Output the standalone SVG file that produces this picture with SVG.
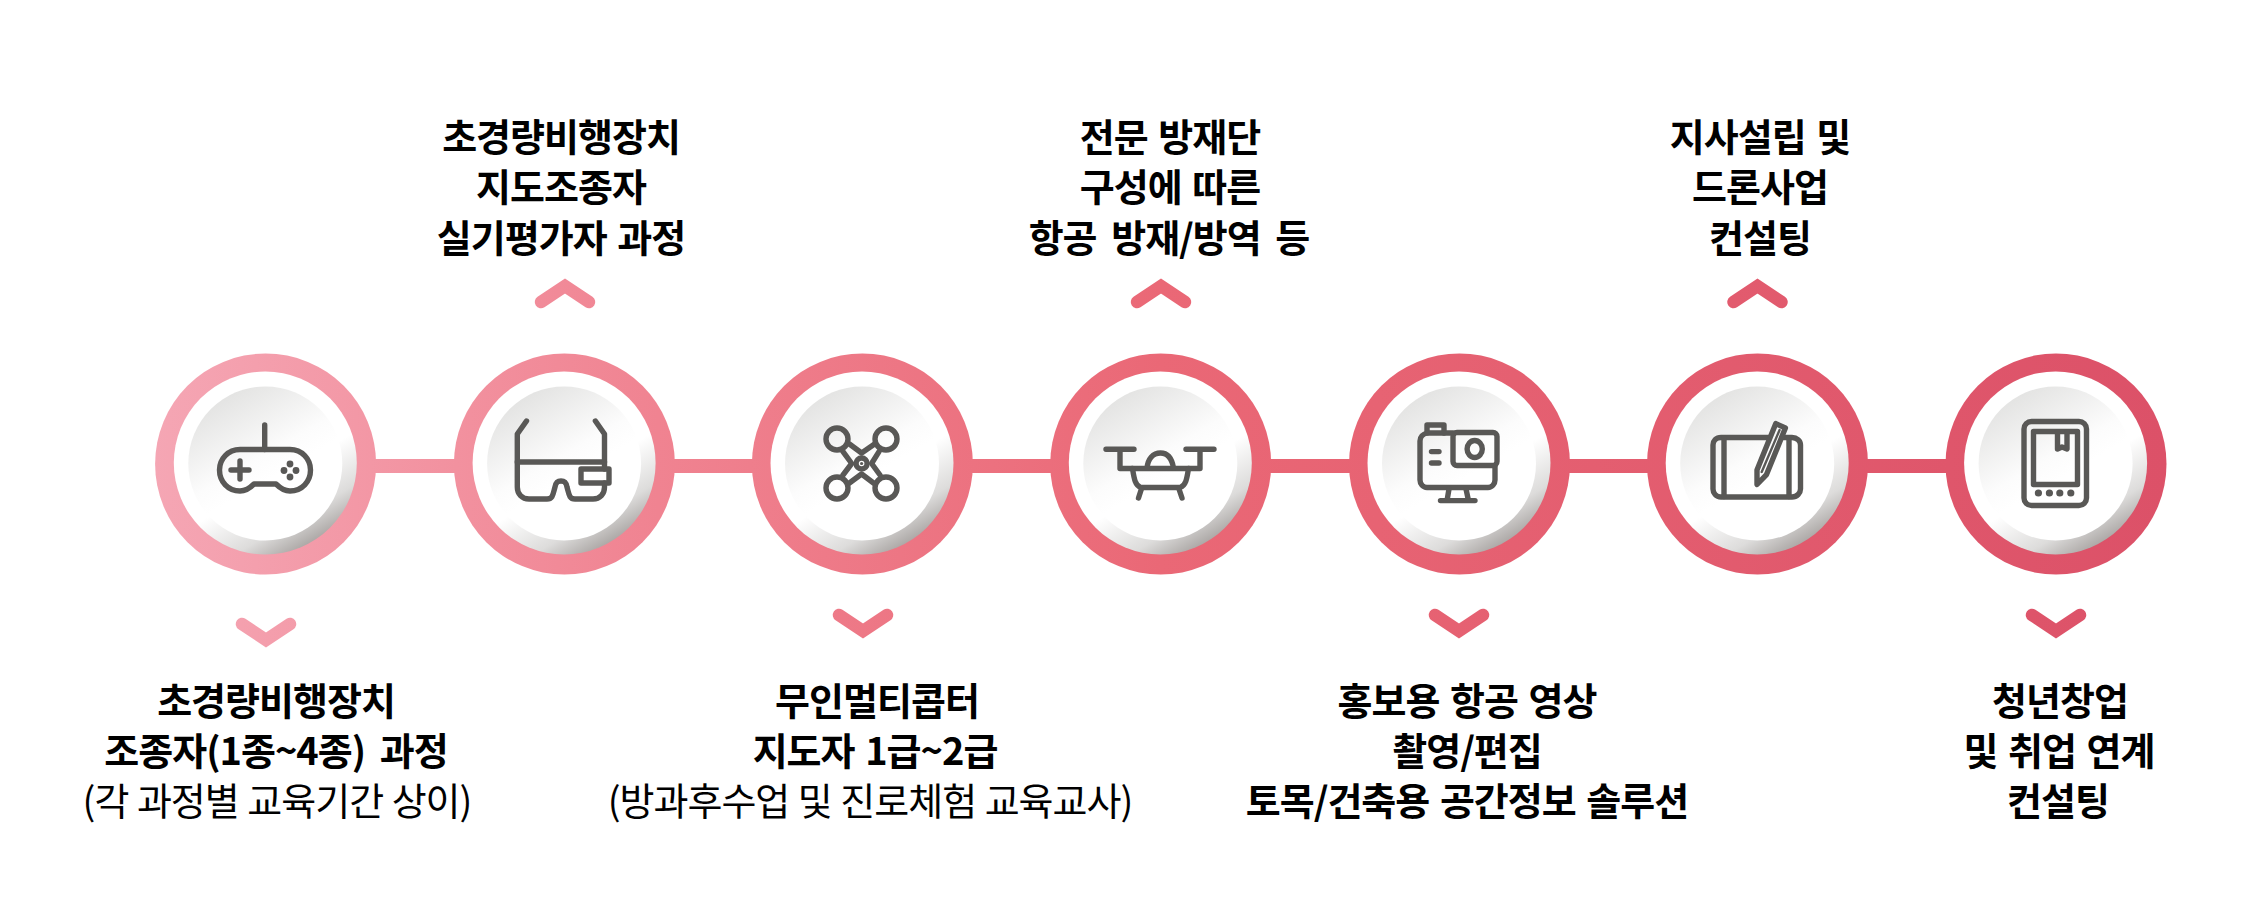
<svg xmlns="http://www.w3.org/2000/svg" width="2259" height="920" viewBox="0 0 2259 920">
<style>
text{font-family:"Noto Sans CJK KR","Noto Sans",sans-serif;font-size:38px;letter-spacing:-1px;word-spacing:3px;text-anchor:middle;fill:#000}
.b{font-weight:700}
.r{font-weight:400;word-spacing:1px}
.w{word-spacing:7px}
.ring{fill:url(#rowGrad)}
.bevel{fill:url(#bevelGrad)}
.face{fill:url(#faceGrad)}
.ic{fill:none;stroke:#595856;stroke-width:5.4;stroke-linecap:round;stroke-linejoin:round}
.dot{fill:#595856}
.chev{fill:none;stroke:url(#rowGrad);stroke-width:12.5;stroke-linecap:round;stroke-linejoin:miter}
</style>
<defs>
<linearGradient id="rowGrad" gradientUnits="userSpaceOnUse" x1="155" y1="0" x2="2166" y2="0">
<stop offset="0" stop-color="#f5a6b4"/><stop offset="0.25" stop-color="#f08391"/><stop offset="0.5" stop-color="#ea6876"/><stop offset="1" stop-color="#dc5168"/>
</linearGradient>
<linearGradient id="bevelGrad" x1="0.25" y1="0.07" x2="0.75" y2="0.93">
<stop offset="0" stop-color="#fff"/><stop offset="0.6" stop-color="#fff"/><stop offset="0.85" stop-color="#dddcdb"/><stop offset="1" stop-color="#aeaaa8"/>
</linearGradient>
<linearGradient id="faceGrad" x1="0.25" y1="0.07" x2="0.75" y2="0.93">
<stop offset="0" stop-color="#e4e4e3"/><stop offset="0.45" stop-color="#fcfcfc"/><stop offset="0.6" stop-color="#fff"/><stop offset="1" stop-color="#fff"/>
</linearGradient>
</defs>
<rect width="2259" height="920" fill="#fff"/>
<g id="connectors">
<rect x="370" y="459" width="1580" height="14" class="ring"/>
</g>
<g id="node1">
<circle cx="265.6" cy="464" r="110.5" class="ring"/><circle cx="265.3" cy="463" r="91.5" class="bevel"/><circle cx="265.3" cy="463.5" r="77" class="face"/>
<g class="ic"><path d="M264.7 425V449.5"/><path d="M240 449.5H290C302 449.5 310.5 459 310.5 470C310.5 481.5 302 491 290 491C284 491 280 488 276 484H254C250 488 246 491 240 491C228 491 219.5 481.5 219.5 470C219.5 459 228 449.5 240 449.5Z"/><path d="M231 470H249M240 461V479"/></g>
<circle cx="290" cy="464" r="3.4" class="dot"/><circle cx="290" cy="477" r="3.4" class="dot"/><circle cx="284" cy="470.5" r="3.4" class="dot"/><circle cx="296" cy="470.5" r="3.4" class="dot"/>
<path d="M242 624L266 640L290 624" class="chev"/>
<text class="b" x="276" y="715">초경량비행장치</text><text class="b w" x="276" y="765">조종자(1종~4종) 과정</text><text class="r" x="277" y="815">(각 과정별 교육기간 상이)</text>
</g>
<g id="node2">
<circle cx="564.4" cy="464" r="110.5" class="ring"/><circle cx="564.1" cy="463" r="91.5" class="bevel"/><circle cx="564.1" cy="463.5" r="77" class="face"/>
<g class="ic"><path d="M526.5 421L517.3 434V487C517.3 494 522 499 529 499H547C553 499 553 494 555 487C556 481 559 481 561 481C563 481 566 481 567 487C569 494 569 499 575 499H593C600 499 604.5 494 604.5 487V483"/><path d="M595.4 421L604.5 434V469"/><path d="M517.3 462H604.5"/><rect x="581" y="469" width="28" height="14"/></g>
<path d="M541 302L565 286L589 302" class="chev"/>
<text class="b" x="561" y="151">초경량비행장치</text><text class="b" x="561" y="201">지도조종자</text><text class="b" x="561" y="252">실기평가자 과정</text>
</g>
<g id="node3">
<circle cx="862.4" cy="464" r="110.5" class="ring"/><circle cx="862" cy="463" r="91.5" class="bevel"/><circle cx="862" cy="463.5" r="77" class="face"/>
<g class="ic"><circle cx="837" cy="439" r="11"/><circle cx="886" cy="439" r="11"/><circle cx="837" cy="488" r="11"/><circle cx="886" cy="488" r="11"/><circle cx="861.6" cy="463.5" r="5.5"/><path d="M849.4 444L861.6 453L874.6 444M879 451.6L871.6 463.5L880 475M873.5 483L861.6 474L849.4 483M843 475L851.7 463.5L843 451.6"/></g>
<circle cx="861.6" cy="463.5" r="1.6" class="dot"/>
<path d="M839 615L863 631L887 615" class="chev"/>
<text class="b" x="877" y="715">무인멀티콥터</text><text class="b" x="875" y="765">지도자 1급~2급</text><text class="r" x="870" y="815">(방과후수업 및 진로체험 교육교사)</text>
</g>
<g id="node4">
<circle cx="1160.7" cy="464" r="110.5" class="ring"/><circle cx="1160.3" cy="463" r="91.5" class="bevel"/><circle cx="1160.3" cy="463.5" r="77" class="face"/>
<g class="ic"><path d="M1106 449.3H1134M1186 449.3H1214M1120 449.3V468.5H1200V449.3"/><path d="M1147 468C1148 459 1153 453 1160.5 453C1168 453 1172 459 1173.5 468"/><path d="M1132.5 468.5C1134 478 1135 486 1141 487.5H1180C1186 486 1187 478 1188.5 468.5"/><path d="M1141.4 489L1138.5 498M1179 489L1182 498"/></g>
<path d="M1137 302L1161 286L1185 302" class="chev"/>
<text class="b" x="1170" y="151">전문 방재단</text><text class="b" x="1170" y="201">구성에 따른</text><text class="b w" x="1169" y="252">항공 방재/방역 등</text>
</g>
<g id="node5">
<circle cx="1459.5" cy="464" r="110.5" class="ring"/><circle cx="1459" cy="463" r="91.5" class="bevel"/><circle cx="1459" cy="463.5" r="77" class="face"/>
<g class="ic"><path d="M1427 433V425H1444V433"/><path d="M1453 433H1427C1423 434 1420 437 1420 441V480C1420 484 1423 487.5 1427 487.5H1488C1492 487.5 1495 484 1495 480V466"/><rect x="1453" y="432.5" width="44" height="33" rx="4"/><ellipse cx="1474.7" cy="449" rx="7.6" ry="8.5"/><path d="M1431.5 451.6H1439M1431.5 463H1439"/><path d="M1449 489L1447 500.6M1466 489L1468.5 500.6M1440.5 500.6H1475"/></g>
<path d="M1435 615L1459 631L1483 615" class="chev"/>
<text class="b" x="1467" y="715">홍보용 항공 영상</text><text class="b" x="1467" y="765">촬영/편집</text><text class="b" x="1467" y="815">토목/건축용 공간정보 솔루션</text>
</g>
<g id="node6">
<circle cx="1757.5" cy="464" r="110.5" class="ring"/><circle cx="1757.2" cy="463" r="91.5" class="bevel"/><circle cx="1757.2" cy="463.5" r="77" class="face"/>
<g class="ic"><path d="M1768 437.5H1721C1716 437.5 1713 441 1713 445V489C1713 493 1716 497 1721 497H1792C1797 497 1800.5 493 1800.5 489V445C1800.5 441 1797 437.5 1792 437.5H1784"/><path d="M1724 438V496.5M1789 438V496.5"/><path d="M1757 484.5V470L1775.8 423.6L1785.4 428L1766.5 474.6Z"/><path d="M1761.7 472L1779.6 430" stroke-width="2.4"/></g>
<path d="M1733.5 302L1757.5 286L1781.5 302" class="chev"/>
<text class="b" x="1760" y="151">지사설립 및</text><text class="b" x="1760" y="201">드론사업</text><text class="b" x="1760" y="252">컨설팅</text>
</g>
<g id="node7">
<circle cx="2056" cy="464" r="110.5" class="ring"/><circle cx="2055.6" cy="463" r="91.5" class="bevel"/><circle cx="2055.6" cy="463.5" r="77" class="face"/>
<g class="ic"><rect x="2024" y="421.5" width="62.5" height="84" rx="7.5"/><rect x="2033.5" y="431.5" width="44" height="53"/><path d="M2057.5 432V449L2062 447L2067 449V432"/></g>
<circle cx="2038.4" cy="493" r="3.6" class="dot"/><circle cx="2049.4" cy="493" r="3.6" class="dot"/><circle cx="2059.8" cy="493" r="3.6" class="dot"/><circle cx="2070.8" cy="493" r="3.6" class="dot"/>
<path d="M2032 615L2056 631L2080 615" class="chev"/>
<text class="b" x="2060" y="715">청년창업</text><text class="b" x="2059" y="765">및 취업 연계</text><text class="b" x="2058" y="815">컨설팅</text>
</g>
</svg>
